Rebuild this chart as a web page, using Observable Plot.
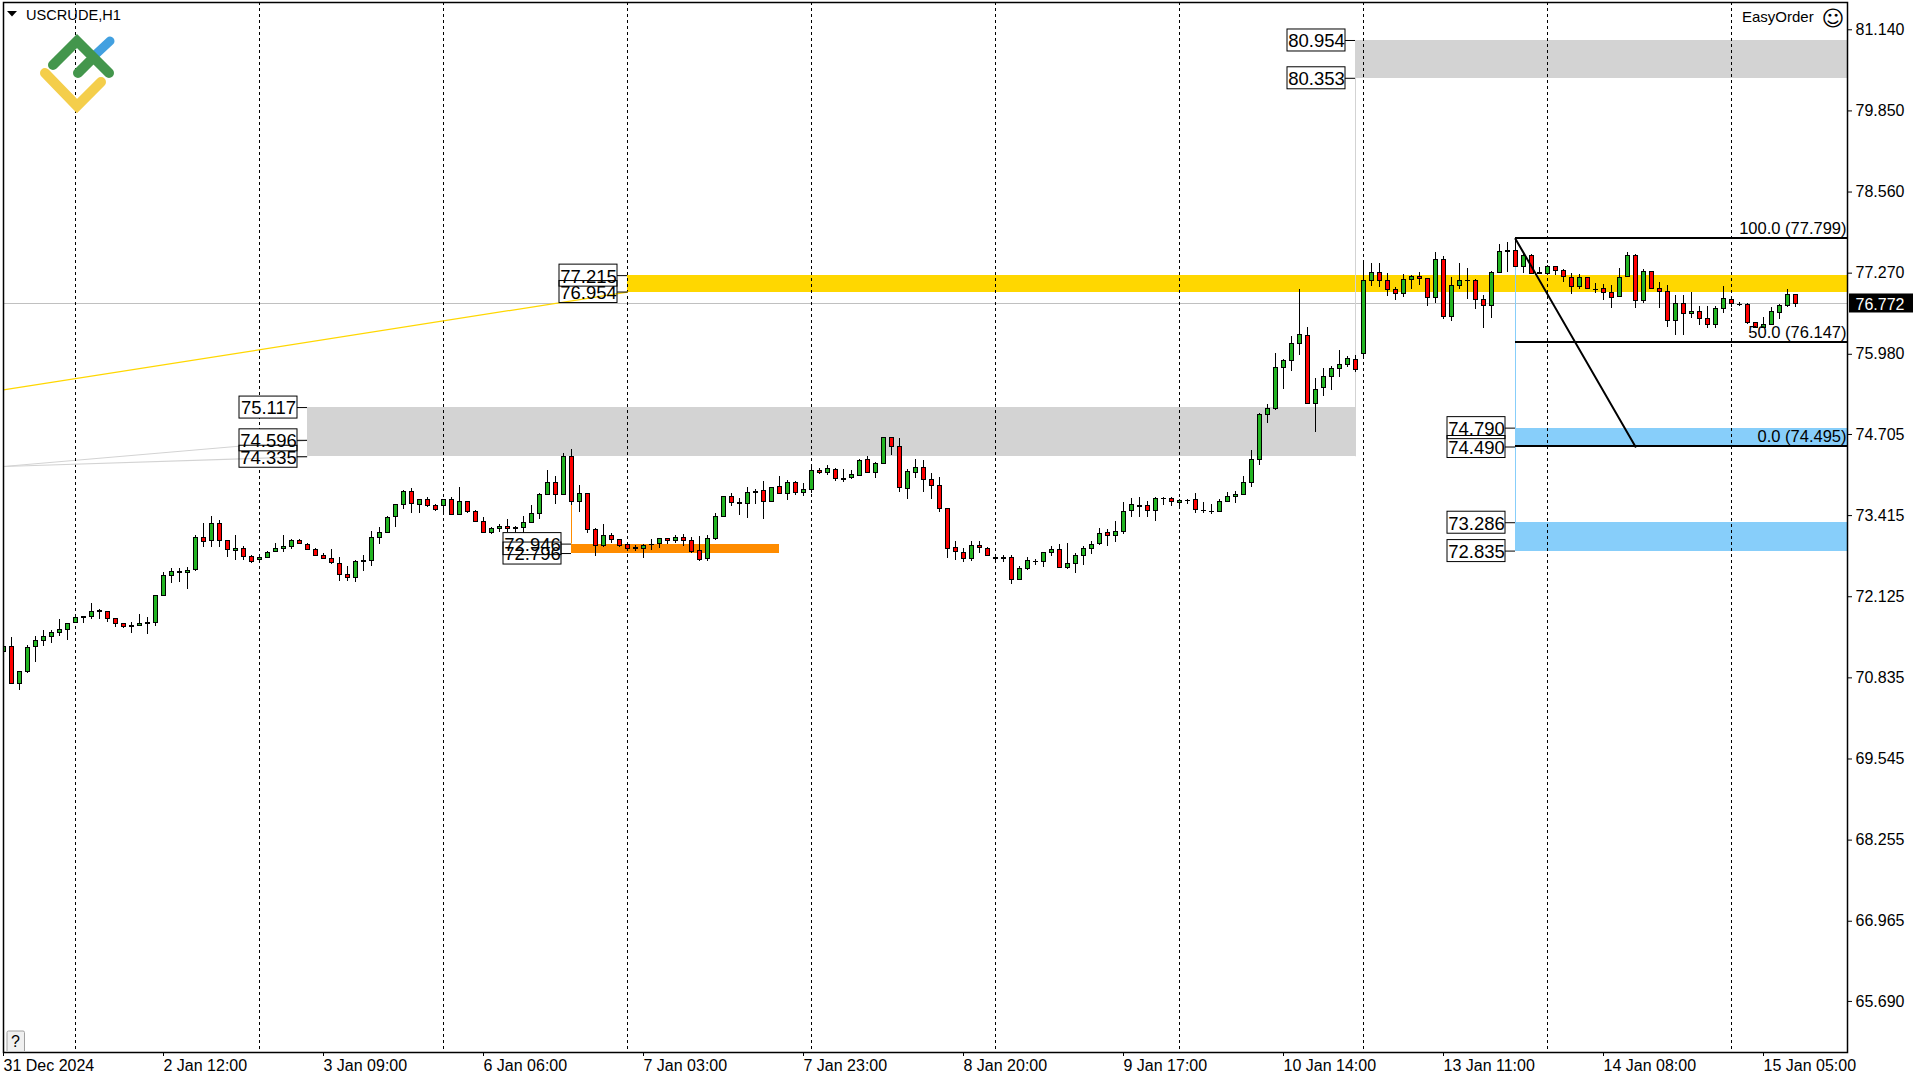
<!DOCTYPE html>
<html><head><meta charset="utf-8">
<style>html,body{margin:0;padding:0;background:#fff}svg{display:block}</style>
<script src="https://cdn.jsdelivr.net/npm/d3@7"></script>
<script src="https://cdn.jsdelivr.net/npm/@observablehq/plot@0.6"></script>
</head><body><div id="chart"></div>
<script>
const open = [
71.228,71.313,70.725,70.910,71.313,71.409,71.472,71.536,71.584,71.695,
71.785,71.790,71.886,71.870,71.758,71.674,71.642,71.642,71.690,71.690,
72.119,72.442,72.500,72.485,72.538,73.046,72.999,73.269,72.993,72.840,
72.871,72.744,72.697,72.728,72.824,72.871,72.903,72.999,72.935,72.856,
72.760,72.712,72.633,72.458,72.410,72.681,72.681,73.046,73.126,73.380,
73.571,73.778,73.571,73.651,73.555,73.555,73.651,73.412,73.619,73.460,
73.301,73.126,73.189,73.221,73.200,73.200,73.285,73.428,73.730,73.921,
73.730,74.334,73.619,73.746,73.174,72.919,73.078,73.015,72.935,72.882,
72.871,72.940,72.951,73.030,72.999,73.046,72.999,72.840,72.712,73.030,
73.380,73.698,73.598,73.587,73.778,73.794,73.619,73.857,73.746,73.921,
73.762,73.810,74.112,74.080,74.128,73.979,74.000,74.032,74.287,74.080,
74.223,74.636,74.493,73.825,74.080,74.159,73.969,73.873,73.507,72.887,
72.808,72.712,72.919,72.871,72.723,72.723,72.728,72.379,72.553,72.670,
72.665,72.808,72.856,72.569,72.633,72.760,72.871,72.951,73.126,73.078,
73.142,73.476,73.555,73.555,73.476,73.672,73.661,73.603,73.640,73.651,
73.481,73.465,73.460,73.619,73.698,73.730,73.921,74.287,75.002,75.097,
75.749,75.861,76.131,76.258,75.177,75.431,75.606,75.733,75.797,75.877,
75.972,77.133,77.260,77.133,76.990,76.926,77.149,77.196,77.164,76.862,
77.467,76.560,77.053,77.138,77.133,76.831,76.735,77.260,77.604,77.610,
77.355,77.530,77.255,77.239,77.355,77.292,77.180,77.037,77.180,76.995,
77.005,76.942,76.873,77.196,77.530,76.815,77.276,77.005,76.958,76.497,
76.767,76.608,76.640,76.528,76.433,76.687,76.831,76.756,76.751,76.460,
76.380,76.428,76.624,76.735,76.910];
const close = [
71.313,70.725,70.910,71.297,71.409,71.472,71.536,71.584,71.679,71.774,
71.785,71.870,71.886,71.758,71.679,71.631,71.642,71.679,71.690,72.124,
72.442,72.506,72.500,72.522,73.046,72.983,73.269,72.999,72.856,72.871,
72.744,72.665,72.728,72.808,72.871,72.903,72.999,72.951,72.856,72.760,
72.712,72.649,72.458,72.410,72.665,72.681,73.046,73.126,73.364,73.571,
73.778,73.587,73.651,73.555,73.492,73.651,73.412,73.619,73.460,73.301,
73.126,73.189,73.221,73.189,73.200,73.285,73.428,73.730,73.921,73.730,
74.334,73.619,73.746,73.174,72.919,73.078,73.015,72.919,72.871,72.882,
72.919,72.940,73.030,72.999,73.046,72.999,72.818,72.691,73.030,73.380,
73.698,73.603,73.598,73.762,73.778,73.619,73.841,73.746,73.921,73.762,
73.810,74.112,74.080,74.143,73.984,73.979,74.048,74.271,74.080,74.223,
74.636,74.493,73.841,74.096,74.159,73.969,73.873,73.507,72.871,72.824,
72.712,72.919,72.887,72.760,72.723,72.723,72.379,72.553,72.681,72.670,
72.808,72.856,72.569,72.633,72.760,72.871,72.935,73.110,73.078,73.142,
73.460,73.571,73.555,73.476,73.666,73.672,73.619,73.635,73.640,73.492,
73.481,73.465,73.619,73.698,73.730,73.921,74.287,75.002,75.097,75.749,
75.861,76.131,76.274,75.177,75.400,75.606,75.733,75.797,75.892,75.718,
77.133,77.260,77.133,76.990,76.926,77.149,77.196,77.164,76.862,77.467,
76.560,77.053,77.133,77.138,76.831,76.735,77.260,77.594,77.604,77.355,
77.530,77.244,77.255,77.355,77.292,77.196,77.037,77.180,77.005,76.995,
76.942,76.862,77.180,77.530,76.815,77.276,77.005,76.958,76.497,76.767,
76.608,76.640,76.528,76.433,76.687,76.846,76.767,76.756,76.465,76.380,
76.428,76.640,76.735,76.910,76.767];
const high = [
71.414,71.456,70.910,71.334,71.478,71.573,71.573,71.743,71.679,71.796,
71.785,71.997,71.912,71.870,71.769,71.674,71.700,71.822,71.785,72.124,
72.490,72.553,72.553,72.569,73.078,73.274,73.386,73.317,72.993,73.078,
72.903,72.771,72.750,72.824,72.951,73.078,73.015,73.015,72.951,72.871,
72.792,72.856,72.728,72.591,72.681,72.760,73.142,73.205,73.380,73.571,
73.799,73.831,73.651,73.682,73.571,73.651,73.682,73.847,73.619,73.476,
73.364,73.205,73.253,73.333,73.227,73.380,73.555,73.746,74.112,74.016,
74.382,74.446,73.873,73.746,73.189,73.253,73.110,73.015,72.935,72.919,
72.935,73.015,73.030,73.030,73.078,73.094,73.046,73.068,73.078,73.428,
73.709,73.746,73.672,73.841,73.815,73.942,73.852,74.016,73.958,73.942,
73.905,74.207,74.143,74.191,74.143,74.128,74.112,74.287,74.334,74.239,
74.636,74.636,74.620,74.128,74.287,74.271,74.064,74.000,73.507,72.983,
72.871,72.983,72.983,72.887,72.760,72.760,72.760,72.585,72.728,72.697,
72.808,72.903,72.935,72.951,72.792,72.903,72.983,73.189,73.174,73.301,
73.603,73.666,73.682,73.619,73.682,73.682,73.682,73.651,73.651,73.746,
73.603,73.571,73.651,73.762,73.778,74.016,74.435,75.018,75.161,75.977,
75.877,76.242,76.990,76.385,75.574,75.733,75.765,76.020,75.924,75.940,
77.451,77.403,77.403,77.244,77.021,77.228,77.212,77.260,77.164,77.578,
77.514,77.180,77.403,77.323,77.149,76.894,77.276,77.705,77.737,77.799,
77.562,77.546,77.339,77.371,77.355,77.308,77.244,77.228,77.180,77.085,
77.069,77.053,77.329,77.578,77.546,77.308,77.286,77.101,77.053,76.894,
76.894,76.947,76.719,76.719,76.719,77.037,76.862,76.788,76.767,76.476,
76.544,76.703,76.751,76.990,76.910];
const low = [
71.175,70.725,70.619,70.895,71.069,71.324,71.361,71.483,71.414,71.679,
71.690,71.753,71.753,71.705,71.626,71.610,71.531,71.637,71.515,71.637,
72.119,72.315,72.341,72.230,72.516,72.898,72.898,72.898,72.739,72.686,
72.686,72.633,72.633,72.712,72.818,72.813,72.866,72.935,72.840,72.744,
72.697,72.617,72.357,72.357,72.341,72.516,72.596,72.946,73.121,73.216,
73.502,73.439,73.439,73.523,73.470,73.407,73.407,73.407,73.428,73.285,
73.121,73.105,73.136,73.126,73.057,73.110,73.269,73.343,73.714,73.582,
73.730,73.555,73.454,73.121,72.755,72.887,72.962,72.898,72.834,72.834,
72.723,72.850,72.882,72.946,72.962,72.914,72.803,72.675,72.675,72.999,
73.380,73.545,73.407,73.359,73.582,73.343,73.603,73.746,73.645,73.714,
73.709,73.746,74.059,74.032,73.937,73.931,73.969,74.032,74.064,73.995,
74.207,74.361,73.772,73.651,73.995,73.772,73.661,73.454,72.723,72.691,
72.654,72.675,72.803,72.755,72.644,72.659,72.304,72.368,72.532,72.601,
72.580,72.750,72.569,72.543,72.485,72.606,72.781,72.919,72.909,72.972,
73.105,73.375,73.375,73.375,73.311,73.566,73.550,73.545,73.582,73.439,
73.428,73.417,73.454,73.613,73.597,73.725,73.841,74.202,74.870,75.066,
75.410,75.696,75.951,75.177,74.726,75.299,75.394,75.601,75.760,75.680,
75.892,77.048,77.032,76.889,76.825,76.873,77.000,77.064,76.730,76.778,
76.523,76.491,77.000,76.841,76.682,76.380,76.539,77.244,77.270,77.350,
77.255,77.244,77.228,77.228,77.212,77.101,76.910,76.990,77.005,76.926,
76.820,76.698,76.862,77.180,76.698,76.778,77.000,76.687,76.396,76.269,
76.269,76.528,76.428,76.369,76.369,76.608,76.703,76.730,76.444,76.369,
76.369,76.417,76.523,76.703,76.709];

const dayBars = [9,32,55,78,101,124,147,170,193,216];
const xTickBars = [0,20,40,60,80,100,120,140,160,180,200,220];
const xTickLabels = ["31 Dec 2024","2 Jan 12:00","3 Jan 09:00","6 Jan 06:00","7 Jan 03:00","7 Jan 23:00","8 Jan 20:00","9 Jan 17:00","10 Jan 14:00","13 Jan 11:00","14 Jan 08:00","15 Jan 05:00"];
const yTicks = [81.14,79.85,78.56,77.27,75.98,74.705,73.415,72.125,70.835,69.545,68.255,66.965,65.69];

const lastBar = 230.5;
const zones = [
  {a:38,  b:169,     hi:75.117, lo:74.335, fill:"#d3d3d3"},
  {a:169, b:lastBar, hi:80.954, lo:80.353, fill:"#d3d3d3"},
  {a:78,  b:lastBar, hi:77.215, lo:76.954, fill:"#ffd700"},
  {a:71,  b:97,      hi:72.946, lo:72.796, fill:"#ff8c00"},
  {a:189, b:lastBar, hi:74.790, lo:74.490, fill:"#87cefa"},
  {a:189, b:lastBar, hi:73.286, lo:72.835, fill:"#87cefa"}
];
const labelBars   = [38,38,38,169,169,78,78,71,71,189,189,189,189];
const labelPrices = [75.117,74.596,74.335,80.954,80.353,77.215,76.954,72.946,72.796,74.790,74.490,73.286,72.835];
const labels = labelBars.map((bar,k)=>({bar,price:labelPrices[k]}));

const fibTop = 77.799, fibMid = 76.147, fibBase = 74.495, fibBar = 189, fibEndBar = 204;
const fibLevels = [
  {price:fibTop,  text:"100.0 (77.799)"},
  {price:fibMid,  text:"50.0 (76.147)"},
  {price:fibBase, text:"0.0 (74.495)"}
];
const lastPrice = 76.772;

const bars = open.map((o,i)=>({i,o,c:close[i],h:high[i],l:low[i]}));
const bodies = bars.filter(d=>d.o!==d.c);
const dojis  = bars.filter(d=>d.o===d.c);
const UP="#22b422", DOWN="#ff0000";

function chrome(){
  const g = d3.create("svg:g").attr("text-anchor","start").attr("fill","#000");
  const logo = g.append("g").attr("fill","none").attr("stroke-linecap","round").attr("stroke-linejoin","miter");
  logo.append("path").attr("d","M95 55L110 41").attr("stroke","#42a0e0").attr("stroke-width",9);
  logo.append("path").attr("d","M53 65L77 41L109 73M78 73L93 58").attr("stroke","#43964c").attr("stroke-width",10);
  logo.append("path").attr("d","M45 73L77 106L101 82").attr("stroke","#f4ce4b").attr("stroke-width",10);
  g.append("path").attr("d","M7 11L17 11L12 16.5Z").attr("fill","#000");
  g.append("text").attr("x",26).attr("y",20).attr("font-size",14.6).attr("font-family","Liberation Sans").text("USCRUDE,H1");
  g.append("text").attr("x",1750).attr("y",22).attr("font-size",15).attr("font-family","Liberation Sans").attr("transform","translate(-8,0)").text("EasyOrder");
  g.append("text").attr("x",1833).attr("y",26).attr("text-anchor","middle").attr("font-size",22).attr("font-family","DejaVu Sans").text("\u263A");
  g.append("path").attr("d","M7 1051V1032.5Q7 1031 8.5 1031H23Q24.5 1031 24.5 1032.5V1051").attr("fill","#f0f0f0").attr("stroke","#a0a0a0");
  g.append("text").attr("x",15.5).attr("y",1047).attr("text-anchor","middle").attr("font-size",16).attr("font-family","Liberation Sans").text("?");
  return g.node();
}

const chart = Plot.plot({
  width:1920, height:1080,
  marginLeft:3, marginRight:73, marginTop:2, marginBottom:28,
  style:{background:"#fff",fontFamily:"Liberation Sans",fontSize:"16px",color:"#000"},
  x:{domain:[0,lastBar]},
  y:{domain:[64.862,81.558]},
  marks:[
    Plot.rect(zones,{x1:"a",x2:"b",y1:"lo",y2:"hi",fill:"fill",shapeRendering:"crispEdges"}),
    Plot.ruleY([lastPrice],{stroke:"#c0c0c0",strokeWidth:1}),
    Plot.line([{x:0,y:74.18},{x:38,y:74.596}],{x:"x",y:"y",stroke:"#d3d3d3",strokeWidth:1.2}),
    Plot.ruleX([169],{y1:74.335,y2:80.353,stroke:"#d3d3d3"}),
    Plot.ruleX([189],{y1:73.286,y2:fibTop,stroke:"#87cefa"}),
    Plot.ruleX([71],{y1:72.946,y2:73.9,stroke:"#ff8c00"}),
    Plot.ruleX(dayBars,{stroke:"#000",strokeDasharray:"3,3",strokeWidth:1}),
    Plot.ruleX(bars,{x:"i",y1:"l",y2:"h",stroke:"#000",strokeWidth:1,clip:true,shapeRendering:"crispEdges"}),
    Plot.rect(bodies,{x1:"i",x2:"i",y1:d=>Math.min(d.o,d.c),y2:d=>Math.max(d.o,d.c),insetLeft:-2,insetRight:-2,
      fill:d=>d.c>d.o?UP:DOWN,stroke:"#000",strokeWidth:1,clip:true,shapeRendering:"crispEdges"}),
    Plot.ruleY(dojis,{x1:"i",x2:"i",y:"o",insetLeft:-2,insetRight:-3,stroke:"#000",strokeWidth:1.5,clip:true,shapeRendering:"crispEdges"}),
    Plot.rect(labels,{x1:"bar",x2:"bar",y1:"price",y2:"price",insetLeft:-68,insetRight:10,insetTop:-11,insetBottom:-11,fill:"#fff"}),
    Plot.line([{x:0,y:75.397},{x:78,y:76.954}],{x:"x",y:"y",stroke:"#ffd700",strokeWidth:1.2}),
    Plot.line([{x:0,y:74.18},{x:38,y:74.335}],{x:"x",y:"y",stroke:"#d3d3d3",strokeWidth:1.2}),
    Plot.rect(labels,{x1:"bar",x2:"bar",y1:"price",y2:"price",insetLeft:-68,insetRight:10,insetTop:-11,insetBottom:-11,fill:"none",stroke:"#000",strokeWidth:1}),
    Plot.ruleY(labels,{x1:"bar",x2:"bar",y:"price",insetLeft:-10,stroke:"#000",strokeWidth:1}),
    Plot.text(labels,{x:"bar",y:"price",text:d=>d.price.toFixed(3),dx:-39,dy:1,fontSize:18.5,fill:"#000"}),
    Plot.ruleY(fibLevels,{x1:fibBar,x2:lastBar,y:"price",dy:-0.7,stroke:"#000",strokeWidth:2,shapeRendering:"crispEdges"}),
    Plot.line([{x:fibBar,y:fibTop},{x:fibEndBar,y:fibBase}],{x:"x",y:"y",stroke:"#000",strokeWidth:2}),
    Plot.text(fibLevels,{x:lastBar,y:"price",text:"text",textAnchor:"end",dx:-1,dy:-10,fontSize:16.5,fill:"#000"}),
    Plot.frame({stroke:"#000",strokeWidth:1.5}),
    Plot.axisY({anchor:"right",ticks:yTicks,tickSize:4,tickPadding:4,textAnchor:"start",tickFormat:d=>d.toFixed(3),label:null,fontSize:16,fill:"#000",dy:1}),
    Plot.axisX({anchor:"bottom",ticks:xTickBars,tickSize:4,tickPadding:3,textAnchor:"start",tickFormat:d=>xTickLabels[xTickBars.indexOf(d)],label:null,fontSize:16,fill:"#000"}),
    Plot.rect([lastPrice],{x1:lastBar,x2:lastBar,y1:d=>d,y2:d=>d,insetLeft:2,insetRight:-66,insetTop:-9.5,insetBottom:-9.5,fill:"#000"}),
    Plot.text([lastPrice],{x:lastBar,y:d=>d,text:d=>d.toFixed(3),textAnchor:"start",dx:8,dy:1,fontSize:16,fill:"#fff"}),
    chrome
  ]
});
document.getElementById("chart").append(chart);
</script></body></html>
